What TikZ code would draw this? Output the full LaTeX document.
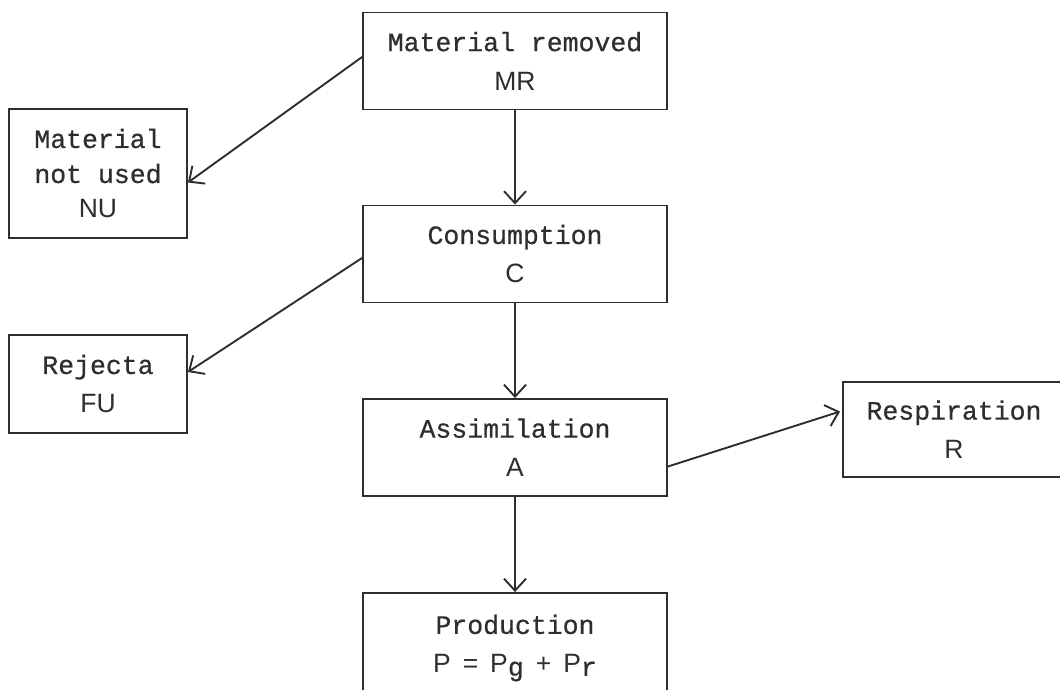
\documentclass[tikz,border=0pt]{standalone}
\usepackage{fontspec}
\setmonofont{Liberation Mono}[FakeBold=0.6]
\setsansfont{Liberation Sans}
\usetikzlibrary{arrows.meta}
\definecolor{inkgray}{HTML}{2E2E2E}
\tikzset{
  flowbox/.style = {draw=inkgray, line width=1.9pt, text=inkgray, align=center,
                    inner sep=0pt, font=\fontsize{26.5}{39}\selectfont},
  widebox/.style = {flowbox, minimum width=304pt, minimum height=97pt},
  flowarr/.style = {-{Straight Barb[length=12pt,width=22pt,line width=1.9pt]},
                    inkgray, line width=1.9pt}
}

\begin{document}
\begin{tikzpicture}[x=1pt,y=-1pt]
  \useasboundingbox (0,0) rectangle (1060,689);
  \clip (0,0) rectangle (1060,689);
  % the main chain, down the middle
  \node[widebox] (mr) at (515,61)    {{\ttfamily Material removed}\\{\sffamily MR}};
  \node[widebox] (c)  at (515,254)   {{\ttfamily Consumption}\\{\sffamily C}};
  \node[widebox] (a)  at (515,447.5) {{\ttfamily Assimilation}\\{\sffamily A}};
  % bottom box runs off the page
  \node[widebox, minimum height=110pt] (p) at (515,648)
       {{\ttfamily Production}\\{\sffamily P\hspace{12pt}=\hspace{12pt}P\raisebox{-3pt}{\ttfamily g}\hspace{12pt}+\hspace{12pt}P\raisebox{-3pt}{\ttfamily r}}};
  % losses on the sides
  \node[flowbox, minimum width=178pt, minimum height=129pt,
        font=\fontsize{26.5}{35}\selectfont] (nu) at (98,173.5)
       {{\ttfamily Material}\\{\ttfamily not used}\\{\sffamily NU}};
  \node[flowbox, minimum width=178pt, minimum height=98pt] (fu) at (98,384)
       {{\ttfamily Rejecta}\\{\sffamily FU}};
  \node[flowbox, minimum width=222pt, minimum height=95pt] (r) at (954,429.5)
       {{\ttfamily Respiration}\\{\sffamily R}};
  % connectors
  \draw[flowarr] ([yshift=4pt]mr.west) -- ([yshift=-9pt]nu.east);
  \draw[flowarr] (mr.south) -- (c.north);
  \draw[flowarr] ([yshift=-4pt]c.west) -- ([yshift=12pt]fu.east);
  \draw[flowarr] (c.south) -- (a.north);
  \draw[flowarr] ([yshift=-19pt]a.east) -- ([xshift=-2pt,yshift=18pt]r.west);
  \draw[flowarr] (a.south) -- (p.north);
\end{tikzpicture}
\end{document}
